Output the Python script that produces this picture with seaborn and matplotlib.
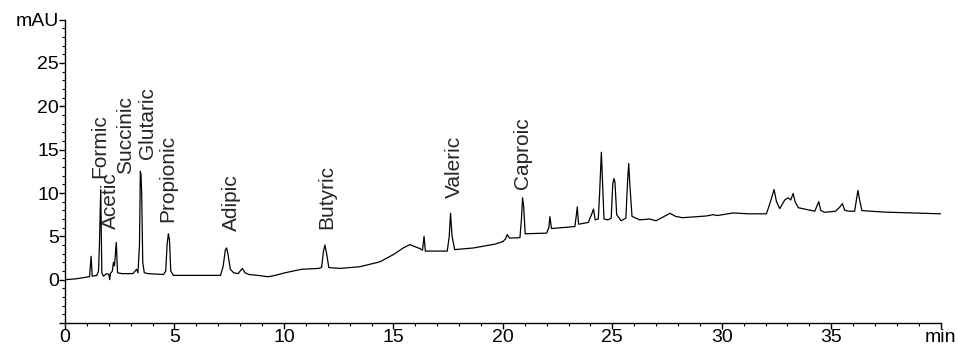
import matplotlib
matplotlib.use("Agg")
import matplotlib.pyplot as plt
from matplotlib.ticker import MultipleLocator
import pandas as pd
import seaborn as sns

# trace (retention time in min, signal in mAU)
rt_min = [
    0.00, 0.50, 1.00, 1.12, 1.19, 1.24, 1.45, 1.53, 1.57, 1.63, 1.68, 1.75,
    1.90, 2.00, 2.04, 2.07, 2.16, 2.21, 2.26, 2.34, 2.40, 2.60, 3.10, 3.27,
    3.33, 3.40, 3.44, 3.47, 3.50, 3.55, 3.62, 3.80, 4.50, 4.60, 4.66, 4.72,
    4.77, 4.83, 4.95, 6.00, 7.10, 7.22, 7.32, 7.38, 7.44, 7.55, 7.70, 7.91,
    8.00, 8.10, 8.22, 8.40, 8.80, 9.28, 9.60, 10.05, 10.80, 11.57, 11.72, 11.80,
    11.87, 11.95, 12.05, 12.56, 13.47, 14.38, 15.00, 15.45, 15.75, 16.20, 16.33, 16.40,
    16.46, 17.46, 17.55, 17.61, 17.68, 17.80, 18.65, 19.63, 20.00, 20.12, 20.20, 20.30,
    20.78, 20.85, 20.90, 20.95, 21.02, 22.00, 22.10, 22.15, 22.22, 23.29, 23.36, 23.40,
    23.46, 23.90, 24.05, 24.14, 24.22, 24.36, 24.42, 24.50, 24.55, 24.62, 24.80, 24.95,
    25.02, 25.07, 25.12, 25.20, 25.40, 25.62, 25.70, 25.75, 25.80, 25.90, 26.25, 26.70,
    27.00, 27.30, 27.63, 27.90, 28.20, 29.30, 29.60, 29.80, 30.52, 31.20, 32.04, 32.20,
    32.39, 32.50, 32.65, 32.88, 33.03, 33.15, 33.26, 33.35, 33.50, 34.25, 34.35, 34.43,
    34.52, 34.70, 35.20, 35.40, 35.51, 35.62, 35.80, 36.07, 36.15, 36.22, 36.30, 36.40,
    37.40, 38.66, 40.00,
]
signal_mau = [
    0.00, 0.10, 0.30, 0.35, 2.70, 0.40, 0.50, 1.00, 4.00, 10.40, 0.80, 0.40,
    0.70, 0.60, 0.00, 0.70, 1.00, 2.00, 1.60, 4.30, 0.80, 0.70, 0.70, 1.20,
    0.80, 4.00, 12.50, 12.10, 10.00, 2.00, 0.80, 0.70, 0.60, 1.00, 4.00, 5.30,
    4.60, 1.00, 0.50, 0.50, 0.50, 1.50, 3.40, 3.66, 3.00, 1.20, 0.80, 0.70,
    1.00, 1.30, 0.80, 0.60, 0.50, 0.34, 0.50, 0.80, 1.20, 1.30, 1.40, 3.20,
    4.00, 3.00, 1.40, 1.30, 1.50, 2.06, 2.90, 3.66, 4.04, 3.60, 3.40, 5.00,
    3.30, 3.30, 5.00, 7.66, 5.00, 3.47, 3.66, 4.10, 4.40, 4.70, 5.20, 4.80,
    4.85, 7.00, 9.45, 8.50, 5.30, 5.37, 6.00, 7.28, 5.90, 6.13, 7.50, 8.40,
    6.40, 6.60, 7.50, 8.15, 6.90, 7.00, 10.00, 14.70, 11.50, 7.00, 6.90, 7.10,
    11.00, 11.66, 11.30, 7.50, 6.80, 7.10, 11.50, 13.40, 11.00, 7.30, 6.90, 7.00,
    6.80, 7.20, 7.66, 7.30, 7.15, 7.35, 7.50, 7.40, 7.70, 7.60, 7.60, 8.80,
    10.40, 9.00, 8.20, 9.20, 9.45, 9.20, 9.94, 9.00, 8.30, 7.90, 8.50, 9.00,
    8.00, 7.77, 7.90, 8.40, 8.77, 8.00, 7.90, 7.90, 9.20, 10.30, 9.20, 7.97,
    7.80, 7.70, 7.60,
]

# peak labels
acid_names = ["Formic", "Acetic", "Succinic", "Glutaric", "Propionic",
              "Adipic", "Butyric", "Valeric", "Caproic"]
label_rt = [1.60, 2.08, 2.78, 3.78, 4.70, 7.60, 11.95, 17.80, 20.90]
label_mau = [11.7, 5.9, 12.2, 13.9, 6.6, 5.6, 5.9, 9.4, 10.5]

x_ticks = [0, 5, 10, 15, 20, 25, 30, 35, 40]
x_tick_labels = ["0", "5", "10", "15", "20", "25", "30", "35", "min"]
y_ticks = [-5, 0, 5, 10, 15, 20, 25, 30]
y_tick_labels = ["", "0", "5", "10", "15", "20", "25", "mAU"]

sns.set_style("ticks")
plt.rcParams['font.family'] = ['Liberation Sans', 'DejaVu Sans']

df = pd.DataFrame({'rt': rt_min, 'signal': signal_mau})

fig = plt.figure(figsize=(9.58, 3.5), dpi=100)
ax = fig.add_axes([0.0679, 0.077, 0.914, 0.867])

sns.lineplot(data=df, x='rt', y='signal', estimator=None, color='black',
             linewidth=0.9, ax=ax)

for name, t, y in zip(acid_names, label_rt, label_mau):
    ax.text(t, y, name, rotation=90, ha='center', va='bottom', fontsize=15)

ax.set_xlim(0, 40)
ax.set_ylim(-5, 30)
ax.set_xticks(x_ticks)
ax.set_xticklabels(x_tick_labels)
ax.set_yticks(y_ticks)
ax.set_yticklabels(y_tick_labels)
ax.xaxis.set_minor_locator(MultipleLocator(1))
ax.yaxis.set_minor_locator(MultipleLocator(1))
ax.tick_params(which='major', direction='out', length=4, width=1,
               labelsize=14, pad=0.5, colors='black')
ax.tick_params(which='minor', direction='out', length=2.5, width=0.8, colors='black')
ax.set_xlabel('')
ax.set_ylabel('')

for side in ['top', 'right']:
    ax.spines[side].set_visible(False)
for side in ['left', 'bottom']:
    ax.spines[side].set_color('black')
    ax.spines[side].set_linewidth(1.0)

fig.savefig('out.png', dpi=100)
